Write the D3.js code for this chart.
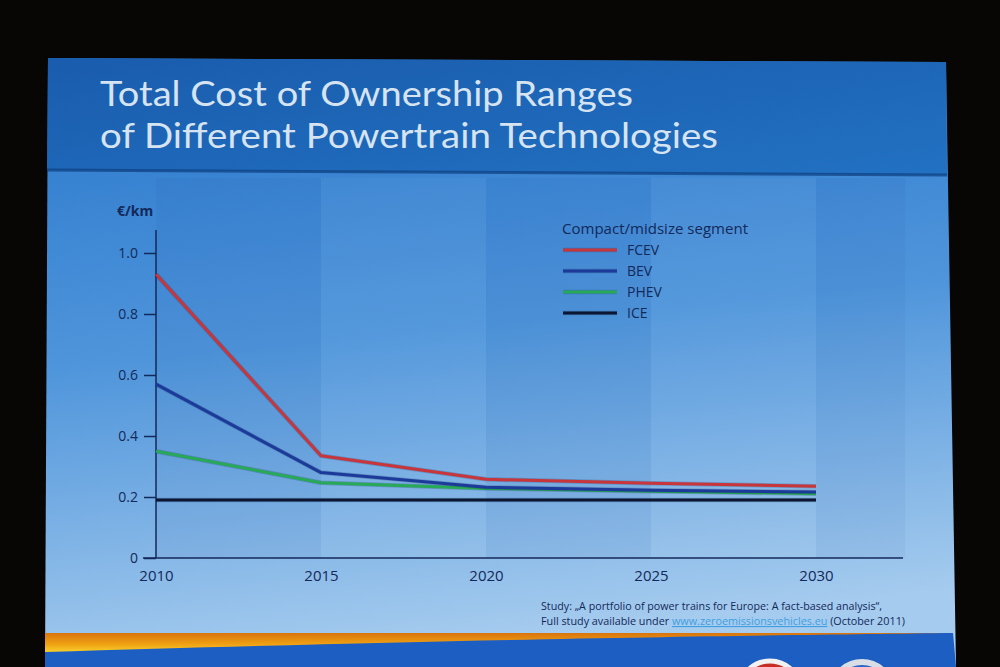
<!DOCTYPE html>
<html lang="en">
<head>
  <meta charset="utf-8">
  <title>Total Cost of Ownership Ranges</title>
  <script src="https://d3js.org/d3.v7.min.js"></script>
  <style>
    html, body { margin: 0; padding: 0; background: #080605; }
    svg { display: block; font-family: "Open Sans", "DejaVu Sans", sans-serif; }
    .tick text { fill: #13295a; font-size: 14px; }
    .ttl { fill: #d6e4f2; font-size: 34px; font-family: Lato, "Open Sans", sans-serif; }
    .leg { fill: #13295a; font-size: 14px; }
    .note { fill: #13295a; font-size: 11px; }
  </style>
</head>
<body>
  <svg width="1000" height="667"></svg>
  <script>
    // data (€/km)
    var years = [2010, 2015, 2020, 2025, 2030];
    var fcev = [0.93, 0.335, 0.258, 0.245, 0.235];
    var bev  = [0.57, 0.28, 0.232, 0.222, 0.216];
    var phev = [0.35, 0.247, 0.228, 0.219, 0.211];
    var ice  = [0.19, 0.19, 0.19, 0.19, 0.19];
    var yTicks = [0, 0.2, 0.4, 0.6, 0.8, 1.0];
    var seriesNames = ["FCEV", "BEV", "PHEV", "ICE"];
    var seriesColors = ["#c8353a", "#1c3a9a", "#27a957", "#0b1633"];
    var seriesValues = [fcev, bev, phev, ice];

    var svg = d3.select("svg");
    var defs = svg.append("defs");

    // slide background gradients
    var gHead = defs.append("linearGradient").attr("id", "head")
      .attr("x1", 0).attr("y1", 0).attr("x2", 1).attr("y2", 1);
    gHead.append("stop").attr("offset", 0).attr("stop-color", "#1a5cad");
    gHead.append("stop").attr("offset", 1).attr("stop-color", "#2271c2");

    var gBody = defs.append("linearGradient").attr("id", "body")
      .attr("x1", 0).attr("y1", 0).attr("x2", 0.15).attr("y2", 1);
    gBody.append("stop").attr("offset", 0).attr("stop-color", "#2876cb");
    gBody.append("stop").attr("offset", 0.5).attr("stop-color", "#4f95db");
    gBody.append("stop").attr("offset", 1).attr("stop-color", "#a5cbee");

    var gOrange = defs.append("linearGradient").attr("id", "orange")
      .attr("x1", 0).attr("y1", 0).attr("x2", 0).attr("y2", 1);
    gOrange.append("stop").attr("offset", 0).attr("stop-color", "#d9740c");
    gOrange.append("stop").attr("offset", 0.6).attr("stop-color", "#f0a214");
    gOrange.append("stop").attr("offset", 1).attr("stop-color", "#f7cf2a");

    // slide shape (slightly skewed in the photo)
    svg.append("path")
      .attr("d", "M48,58 L946,62 L956,667 L45,667 Z")
      .attr("fill", "url(#body)");
    svg.append("path")
      .attr("d", "M48,58 L946,62 L947,175 L47,170 Z")
      .attr("fill", "url(#head)");
    svg.append("path")
      .attr("d", "M47,170 L947,175")
      .attr("stroke", "#0e3f80").attr("stroke-width", 3).attr("opacity", 0.7);

    // footer swoosh + blue bar
    svg.append("path")
      .attr("d", "M45,633 L953,633 L956,667 L45,667 Z")
      .attr("fill", "#1d5ec2");
    svg.append("path")
      .attr("d", "M45,633 L953,633 C 800,635 500,638 45,652 Z")
      .attr("fill", "url(#orange)");
    svg.append("circle").attr("cx", 770).attr("cy", 692).attr("r", 31)
      .attr("fill", "#c62d24").attr("stroke", "#f2f2f2").attr("stroke-width", 5);
    svg.append("circle").attr("cx", 862).attr("cy", 692).attr("r", 30)
      .attr("fill", "#2566c8").attr("stroke", "#d8dde6").attr("stroke-width", 6);

    // title
    var title = svg.append("g");
    title.append("text").attr("class", "ttl").attr("x", 100).attr("y", 106)
      .attr("textLength", 533).attr("lengthAdjust", "spacingAndGlyphs")
      .text("Total Cost of Ownership Ranges");
    title.append("text").attr("class", "ttl").attr("x", 100).attr("y", 148)
      .attr("textLength", 618).attr("lengthAdjust", "spacingAndGlyphs")
      .text("of Different Powertrain Technologies");

    // scales
    var x = d3.scaleLinear().domain([2010, 2030]).range([156, 816]);
    var y = d3.scaleLinear().domain([0, 1]).range([558, 253]);

    // alternating vertical bands
    var bandEdges = years.concat([2032.7]);
    svg.append("g").selectAll("rect")
      .data(years)
      .enter().append("rect")
        .attr("x", (d, i) => x(bandEdges[i]))
        .attr("width", (d, i) => x(bandEdges[i + 1]) - x(bandEdges[i]))
        .attr("y", 178)
        .attr("height", 558 - 178)
        .attr("fill", (d, i) => i % 2 ? "#ffffff" : "#0b3f88")
        .attr("opacity", (d, i) => i % 2 ? 0.04 : 0.05);

    // axes
    var yAxis = svg.append("g")
      .attr("transform", "translate(" + x(2010) + ",0)")
      .call(d3.axisLeft(y).tickValues(yTicks).tickSize(12).tickPadding(6)
        .tickFormat(d => d === 0 ? "0" : d3.format(".1f")(d)))
      .attr("font-family", null);
    yAxis.select(".domain").remove();
    yAxis.selectAll(".tick line").attr("stroke", "#13295a").attr("stroke-width", 1.5);

    var xAxis = svg.append("g")
      .attr("transform", "translate(0," + y(0) + ")")
      .call(d3.axisBottom(x).tickValues(years).tickSize(0).tickPadding(12)
        .tickFormat(d3.format("d")))
      .attr("font-family", null);
    xAxis.select(".domain").remove();
    xAxis.selectAll(".tick text").style("font-size", "15px");

    svg.append("line")
      .attr("x1", x(2010)).attr("x2", x(2010))
      .attr("y1", y(0)).attr("y2", 230)
      .attr("stroke", "#13295a").attr("stroke-width", 1.5);
    svg.append("line")
      .attr("x1", 143).attr("x2", 903)
      .attr("y1", y(0)).attr("y2", y(0))
      .attr("stroke", "#13295a").attr("stroke-width", 1.5);

    svg.append("text").attr("class", "leg")
      .attr("x", 117).attr("y", 216)
      .attr("font-weight", "bold").attr("font-size", 13)
      .text("€/km");

    // lines
    var line = d3.line()
      .x((d, i) => x(years[i]))
      .y(d => y(d));

    var lines = svg.append("g");
    seriesValues.slice().reverse().forEach(function(vals, k) {
      var i = seriesValues.length - 1 - k;
      lines.append("path")
        .datum(vals)
        .attr("d", line)
        .attr("fill", "none")
        .attr("stroke", "#0a1a3a")
        .attr("stroke-opacity", 0.2)
        .attr("stroke-width", 4.5)
        .attr("stroke-linejoin", "round");
      lines.append("path")
        .datum(vals)
        .attr("d", line)
        .attr("fill", "none")
        .attr("stroke", seriesColors[i])
        .attr("stroke-width", 3)
        .attr("stroke-linejoin", "round");
    });

    // legend
    var legend = svg.append("g");
    legend.append("text").attr("class", "leg")
      .attr("x", 562).attr("y", 234)
      .attr("textLength", 186).attr("lengthAdjust", "spacingAndGlyphs")
      .text("Compact/midsize segment");
    var item = legend.selectAll(".item")
      .data(seriesNames)
      .enter().append("g")
        .attr("class", "item")
        .attr("transform", (d, i) => "translate(0," + (250 + i * 21) + ")");
    item.append("line")
      .attr("x1", 563).attr("x2", 617)
      .attr("stroke", "#0a1a3a").attr("stroke-opacity", 0.2).attr("stroke-width", 4.5);
    item.append("line")
      .attr("x1", 563).attr("x2", 617)
      .attr("stroke", (d, i) => seriesColors[i]).attr("stroke-width", 3);
    item.append("text").attr("class", "leg")
      .attr("x", 627).attr("y", 5)
      .text(d => d);

    // source note
    var note = svg.append("g");
    note.append("text").attr("class", "note")
      .attr("x", 541).attr("y", 610)
      .attr("textLength", 341).attr("lengthAdjust", "spacingAndGlyphs")
      .text("Study: „A portfolio of power trains for Europe: A fact-based analysis“,");
    var n2 = note.append("text").attr("class", "note")
      .attr("x", 541).attr("y", 625)
      .attr("textLength", 364).attr("lengthAdjust", "spacingAndGlyphs");
    n2.append("tspan").text("Full study available under ");
    n2.append("tspan").attr("fill", "#3f9fe0").attr("text-decoration", "underline")
      .text("www.zeroemissionsvehicles.eu");
    n2.append("tspan").text(" (October 2011)");
  </script>
</body>
</html>
